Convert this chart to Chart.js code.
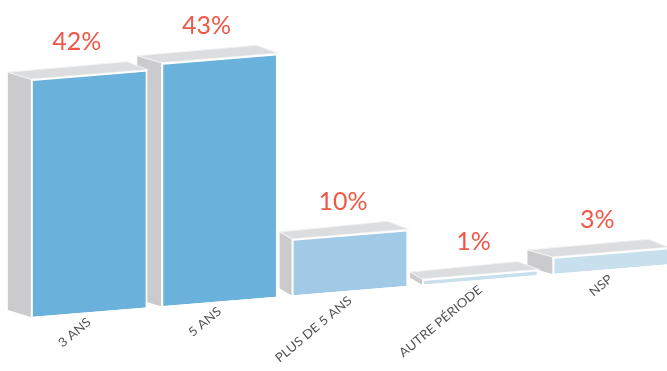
<!DOCTYPE html>
<html>
<head>
<meta charset="utf-8">
<script src="https://cdn.jsdelivr.net/npm/chart.js@4.4.0/dist/chart.umd.min.js"></script>
<style>
  html, body { margin: 0; padding: 0; background: #fff; overflow: hidden; }
  /* le canevas déborde un peu de la fenêtre : la dernière barre sort à droite */
  #wrap { position: relative; width: 676px; height: 420px; }
</style>
</head>
<body>
<div id="wrap"><canvas id="chart"></canvas></div>
<script>
// durée (catégories) et parts en %
const categories = ['3 ANS', '5 ANS', 'PLUS DE 5 ANS', 'AUTRE PÉRIODE', 'NSP'];
const values = [42, 43, 10, 1, 3];

// couleurs des faces avant
const frontColors = ['#6ab1dc', '#6ab1dc', '#a1cae6', '#c8e0ed', '#c8e0ed'];
const sideDepth = [23, 24, 12, 12, 25]; // profondeur visible du côté gauche

const SHEAR = -0.0825; // pente de la perspective
const X0 = 31;

const perspective = {
  id: 'perspective',
  beforeDraw(chart) {
    const ctx = chart.ctx;
    ctx.save();
    ctx.transform(1, SHEAR, 0, 1, 0, -SHEAR * X0);
  },
  beforeDatasetsDraw(chart) {
    const ctx = chart.ctx;
    const bars = chart.getDatasetMeta(0).data;
    // de droite à gauche : la barre de gauche recouvre le côté de sa voisine
    for (let i = bars.length - 1; i >= 0; i--) {
      const b = bars[i];
      const xl = b.x - b.width / 2;
      const xr = b.x + b.width / 2;
      const dx = -sideDepth[i];
      const dy = -7 - SHEAR * dx;
      const tdx = -21;
      const tdy = -8 - SHEAR * tdx;
      // côté
      ctx.beginPath();
      ctx.moveTo(xl, b.y);
      ctx.lineTo(xl + dx, b.y + dy);
      ctx.lineTo(xl + dx, b.base + dy);
      ctx.lineTo(xl, b.base);
      ctx.closePath();
      ctx.fillStyle = '#cbcbcd';
      ctx.fill();
      // dessus
      ctx.beginPath();
      ctx.moveTo(xl, b.y);
      ctx.lineTo(xr, b.y);
      ctx.lineTo(xr + tdx, b.y + tdy);
      ctx.lineTo(xl + dx, b.y + dy);
      ctx.closePath();
      ctx.fillStyle = '#dcddde';
      ctx.fill();
      ctx.strokeStyle = '#f2f2f2';
      ctx.lineWidth = 1;
      ctx.stroke();
    }
  },
  afterDraw(chart) {
    const ctx = chart.ctx;
    ctx.restore();
    const bars = chart.getDatasetMeta(0).data;
    ctx.save();
    ctx.font = '25px Lato';
    ctx.fillStyle = '#ef5848';
    ctx.textAlign = 'center';
    ctx.textBaseline = 'alphabetic';
    bars.forEach((b, i) => {
      const ys = b.y + SHEAR * (b.x - X0);
      ctx.fillText(values[i] + '%', b.x - sideDepth[i] / 2 - 1, ys - 24);
    });
    ctx.restore();
  }
};

new Chart(document.getElementById('chart'), {
  type: 'bar',
  data: {
    labels: categories,
    datasets: [{
      data: values,
      backgroundColor: frontColors,
      borderColor: '#ffffff',
      borderWidth: 2,
      barPercentage: 0.895,
      categoryPercentage: 1,
      clip: false
    }]
  },
  options: {
    responsive: true,
    maintainAspectRatio: false,
    animation: false,
    layout: { padding: { left: 24, right: 0, top: 0, bottom: 0 } },
    plugins: {
      legend: { display: false },
      tooltip: { enabled: false }
    },
    scales: {
      y: { display: false, min: 0, max: 56 },
      x: {
        grid: { display: false, drawTicks: false },
        border: { display: false },
        afterFit: (s) => { s.height = 103; },
        ticks: {
          color: '#555555',
          font: { family: 'Lato', size: 13 },
          minRotation: 37,
          maxRotation: 37,
          padding: 2
        }
      }
    }
  },
  plugins: [perspective]
});
</script>
</body>
</html>
